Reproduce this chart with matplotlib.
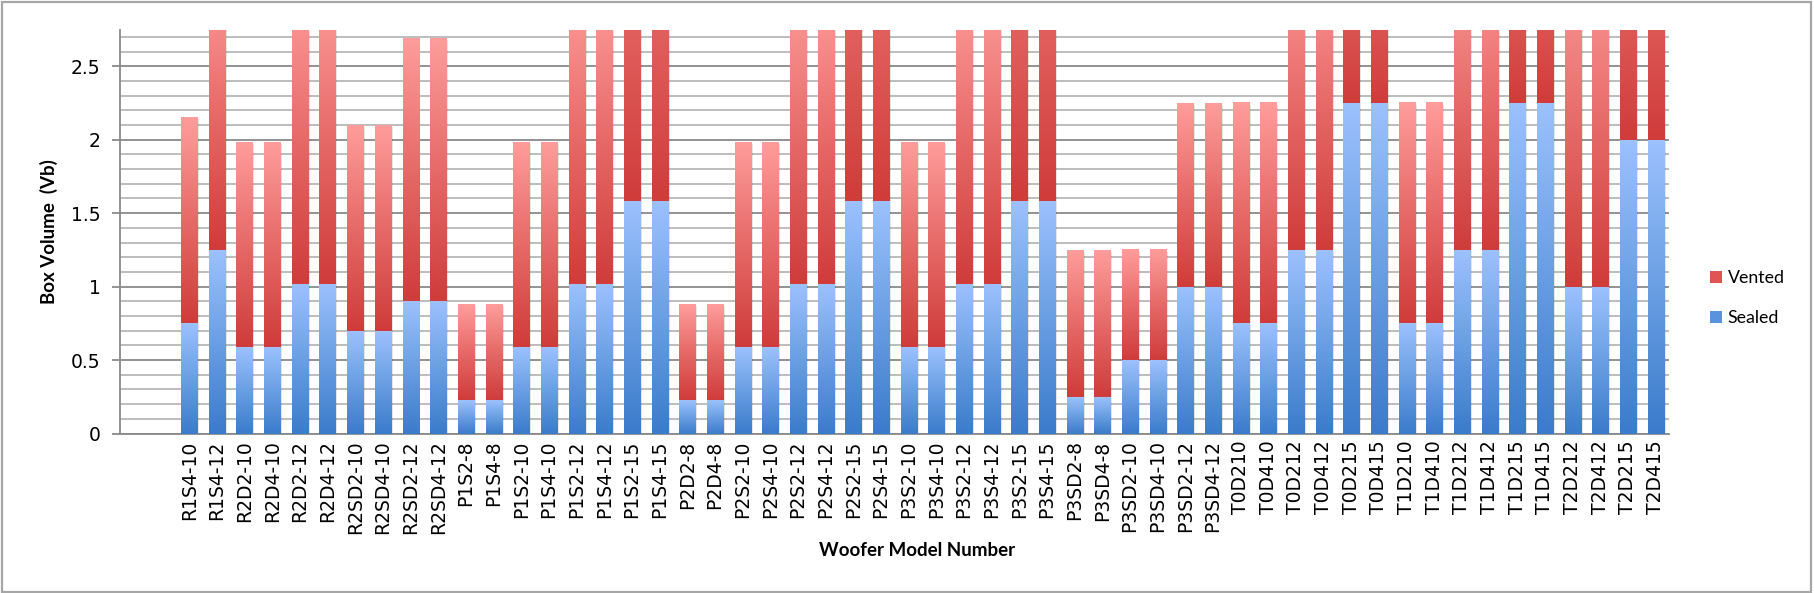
import numpy as np
import matplotlib
matplotlib.use("Agg")
import matplotlib.pyplot as plt
from matplotlib.colors import LinearSegmentedColormap
from matplotlib.patches import Rectangle, Patch
from matplotlib.ticker import MultipleLocator, FuncFormatter

categories = [
    "R1S4-10", "R1S4-12", "R2D2-10", "R2D4-10", "R2D2-12", "R2D4-12",
    "R2SD2-10", "R2SD4-10", "R2SD2-12", "R2SD4-12",
    "P1S2-8", "P1S4-8", "P1S2-10", "P1S4-10", "P1S2-12", "P1S4-12", "P1S2-15", "P1S4-15",
    "P2D2-8", "P2D4-8", "P2S2-10", "P2S4-10", "P2S2-12", "P2S4-12", "P2S2-15", "P2S4-15",
    "P3S2-10", "P3S4-10", "P3S2-12", "P3S4-12", "P3S2-15", "P3S4-15",
    "P3SD2-8", "P3SD4-8", "P3SD2-10", "P3SD4-10", "P3SD2-12", "P3SD4-12",
    "T0D210", "T0D410", "T0D212", "T0D412", "T0D215", "T0D415",
    "T1D210", "T1D410", "T1D212", "T1D412", "T1D215", "T1D415",
    "T2D212", "T2D412", "T2D215", "T2D415",
]

sealed = [
    0.75, 1.25, 0.59, 0.59, 1.02, 1.02, 0.70, 0.70, 0.90, 0.90,
    0.23, 0.23, 0.59, 0.59, 1.02, 1.02, 1.58, 1.58,
    0.23, 0.23, 0.59, 0.59, 1.02, 1.02, 1.58, 1.58,
    0.59, 0.59, 1.02, 1.02, 1.58, 1.58,
    0.25, 0.25, 0.50, 0.50, 1.00, 1.00,
    0.75, 0.75, 1.25, 1.25, 2.25, 2.25,
    0.75, 0.75, 1.25, 1.25, 2.25, 2.25,
    1.00, 1.00, 2.00, 2.00,
]

vented = [
    1.40, 1.85, 1.39, 1.39, 1.98, 1.98, 1.40, 1.40, 1.79, 1.79,
    0.65, 0.65, 1.39, 1.39, 1.98, 1.98, 3.00, 3.00,
    0.65, 0.65, 1.39, 1.39, 1.98, 1.98, 3.00, 3.00,
    1.39, 1.39, 1.98, 1.98, 3.00, 3.00,
    1.00, 1.00, 0.75, 0.75, 1.25, 1.25,
    1.50, 1.50, 2.00, 2.00, 2.00, 2.00,
    1.50, 1.50, 2.00, 2.00, 2.00, 2.00,
    2.20, 2.20, 2.50, 2.50,
]

series_names = ["Vented", "Sealed"]
y_ticks = [0, 0.5, 1, 1.5, 2, 2.5]

W, H = 1815, 593
fig = plt.figure(figsize=(W / 100, H / 100), dpi=100)
fig.patch.set_facecolor("white")
fig.add_artist(Rectangle((0.001, 0.002), 0.997, 0.995, transform=fig.transFigure,
                         fill=False, edgecolor="#a6a6a6", linewidth=1.6))

ax = fig.add_axes([120 / W, 1 - 433.5 / H, (1669.5 - 120) / W, (433.5 - 29.5) / H])

blue_cmap = LinearSegmentedColormap.from_list("blue", ["#3b7bcb", "#6a9fe3", "#9cc1fd"])
red_cmap = LinearSegmentedColormap.from_list("red", ["#cf3c3a", "#e66a68", "#fe9d9b"])

x = np.arange(len(categories))
width = 0.58
sealed_arr = np.array(sealed)
vented_arr = np.array(vented)

YMAX = 2.75

# shadows
ax.bar(x + 0.07, sealed_arr + vented_arr, width=width, bottom=-0.012,
       color=(0, 0, 0, 0.10), edgecolor="none", zorder=2)

bars_s = ax.bar(x, sealed_arr, width=width, color="none", edgecolor="none", zorder=3)
bars_v = ax.bar(x, vented_arr, width=width, bottom=sealed_arr, color="none",
                edgecolor="none", zorder=3)

grad = np.linspace(0, 1, 256).reshape(-1, 1)
for bars, cmap in ((bars_s, blue_cmap), (bars_v, red_cmap)):
    for p in bars.patches:
        x0, y0 = p.get_x(), p.get_y()
        ax.imshow(grad, cmap=cmap, origin="lower", aspect="auto",
                  extent=(x0, x0 + p.get_width(), y0, y0 + p.get_height()),
                  interpolation="bilinear", zorder=3)

ax.set_xlim(-2.5, len(categories) - 0.5)
ax.set_ylim(0, YMAX)

# gridlines
ax.yaxis.set_major_locator(MultipleLocator(0.5))
ax.yaxis.set_minor_locator(MultipleLocator(0.1))
ax.grid(axis="y", which="major", color="#8a8a8a", linewidth=1.3, zorder=1)
ax.grid(axis="y", which="minor", color="#b8b8b8", linewidth=1.3, zorder=1)
ax.set_axisbelow(True)
ax.yaxis.set_major_formatter(FuncFormatter(lambda v, _: ("%g" % v)))
ax.set_yticks(y_ticks)
ax.tick_params(axis="y", which="major", length=6, width=1.3, color="#8a8a8a",
               labelsize=13.5, pad=8)
ax.tick_params(axis="y", which="minor", length=0)
for lab in ax.get_yticklabels():
    lab.set_fontfamily("DejaVu Sans")

ax.set_xticks(x)
ax.set_xticklabels(categories, rotation=90, fontsize=13.5, family="DejaVu Sans",
                   va="top", ha="center")
ax.tick_params(axis="x", length=0, pad=5)

for side in ("top", "right"):
    ax.spines[side].set_visible(False)
for side in ("left", "bottom"):
    ax.spines[side].set_color("#8a8a8a")
    ax.spines[side].set_linewidth(1.3)

ax.set_ylabel("Box Volume  (Vb)", fontsize=13.5, fontweight="bold", family="Lato",
              labelpad=9)
fig.text(917 / W, 1 - 551 / H, "Woofer Model Number", fontsize=13.5, fontweight="bold",
         family="Lato", ha="center", va="center")

handles = [Patch(facecolor="#e05553", edgecolor="none"),
           Patch(facecolor="#5a93dd", edgecolor="none")]
fig.legend(handles, series_names, loc="center left",
           bbox_to_anchor=(1694 / W, 1 - 298 / H), frameon=False,
           prop={"family": "Lato", "size": 12.8}, handlelength=0.65,
           handleheight=0.65, handletextpad=0.35, labelspacing=1.35)

fig.savefig("out.png", dpi=100)
